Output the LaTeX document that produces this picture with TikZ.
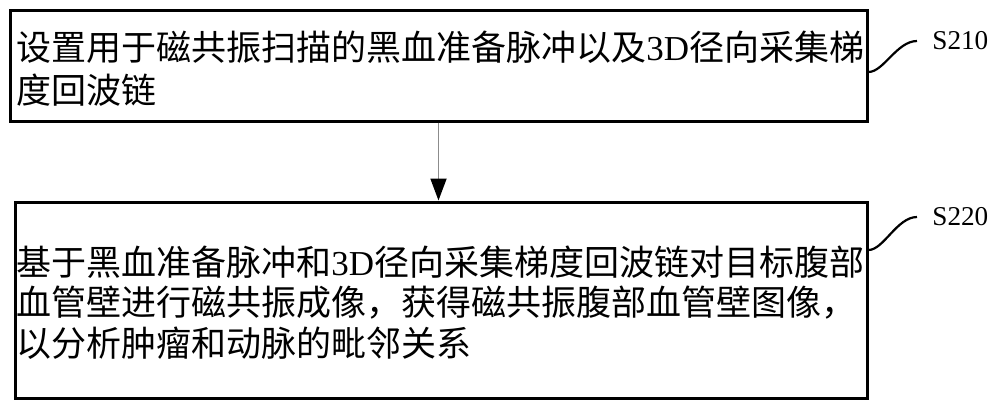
\documentclass[tikz,border=0pt]{standalone}
\usepackage{fontspec}
\setmainfont{Liberation Serif}
\newfontfamily\cjk{Noto Sans CJK SC}
\usetikzlibrary{arrows.meta,calc}
\begin{document}
\begin{tikzpicture}[x=0.5pt,y=-0.5pt,
  stepbox/.style={draw=black,line width=1.5pt,rectangle,inner sep=0pt},
  linetext/.style={anchor=base west,inner sep=0pt,font=\cjk\fontsize{17.5}{20}\selectfont},
  squig/.style={draw=black,line width=1.1pt},
  steplabel/.style={anchor=west,inner sep=0pt,font=\fontsize{13.6}{15}\selectfont},
  flow/.style={draw=black!45,line width=0.9pt,-{Triangle[width=8pt,length=11pt,color=black]}}]
\useasboundingbox (0,0) rectangle (1000,408);
\node[stepbox,minimum width=428.5pt,minimum height=55.5pt] (b1) at (438.5,65.5) {};
\node[stepbox,minimum width=426pt,minimum height=98pt] (b2) at (441,300) {};
\node[linetext] (t11) at (16,60) {设置用于磁共振扫描的黑血准备脉冲以及{\rmfamily 3D}径向采集梯};
\node[linetext] (t12) at (16,103) {度回波链};
\node[linetext] (t21) at (16,275) {基于黑血准备脉冲和{\rmfamily 3D}径向采集梯度回波链对目标腹部};
\node[linetext] (t22) at (16,315) {血管壁进行磁共振成像，获得磁共振腹部血管壁图像，};
\node[linetext] (t23) at (16,356) {以分析肿瘤和动脉的毗邻关系};
\coordinate (e1) at (917,41);
\coordinate (e2) at (917,217);
\node[steplabel] (s1) at (932,41) {S210};
\node[steplabel] (s2) at (932,217) {S220};
\draw[squig] ([yshift=-3.25pt]b1.east) .. controls +(15,0) and (897,41) .. (e1);
\draw[squig] ([yshift=25pt]b2.east) .. controls +(15,0) and (897,217) .. (e2);
\draw[flow] (b1.south) -- (b1.south |- b2.north);
\end{tikzpicture}
\end{document}
